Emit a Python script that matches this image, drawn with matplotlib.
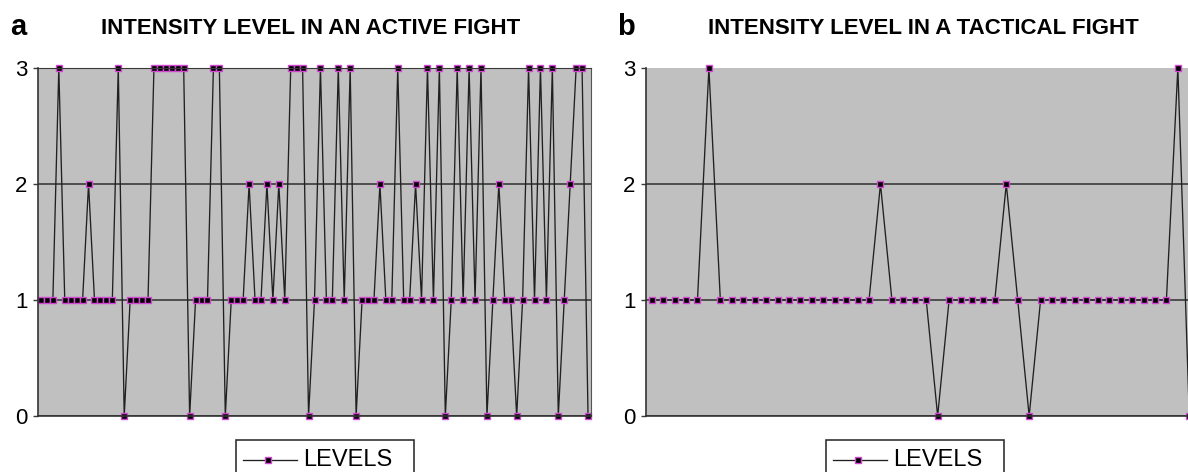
import matplotlib
matplotlib.use("Agg")
import matplotlib.pyplot as plt
from matplotlib.lines import Line2D
from matplotlib.patches import Rectangle

plt.rcParams['font.family'] = ['Liberation Sans', 'DejaVu Sans']

# intensity level per moment of the fight
active_levels = [
    1, 1, 1, 3, 1, 1, 1, 1, 2, 1, 1, 1, 1, 3, 0, 1, 1, 1, 1,
    3, 3, 3, 3, 3, 3, 0, 1, 1, 1, 3, 3, 0, 1, 1, 1, 2, 1, 1, 2, 1, 2, 1,
    3, 3, 3, 0, 1, 3, 1, 1, 3, 1, 3, 0, 1, 1, 1, 2, 1, 1, 3, 1, 1, 2, 1,
    3, 1, 3, 0, 1, 3, 1, 3, 1, 3, 0, 1, 2, 1, 1, 0, 1, 3, 1, 3, 1, 3, 0,
    1, 2, 3, 3, 0,
]
tactical_levels = [
    1, 1, 1, 1, 1, 3,
    1, 1, 1, 1, 1, 1, 1, 1, 1, 1, 1, 1, 1, 1,
    2, 1, 1, 1, 1, 0, 1, 1, 1, 1, 1, 2, 1, 0,
    1, 1, 1, 1, 1, 1, 1, 1, 1, 1, 1, 1,
    3, 0,
]
level_ticks = [0, 1, 2, 3]
titles = ["INTENSITY LEVEL IN AN ACTIVE FIGHT", "INTENSITY LEVEL IN A TACTICAL FIGHT"]
letters = ["a", "b"]
series_name = "LEVELS"

W, H = 1188, 472
fig = plt.figure(figsize=(W / 100, H / 100), dpi=100)

marker_kw = dict(marker='s', ms=4.5, mfc='black', mec='#d048d0', mew=1.0)
line_kw = dict(color='#202020', lw=0.95, **marker_kw)


def fx(x):
    return x / W


def fy(y):
    return 1 - y / H


def draw_panel(left, width, levels, title, letter, title_x, legend_x, top_grid):
    ax = fig.add_axes([fx(left), fy(416), width / W, 348 / H])
    ax.set_facecolor('#c0c0c0')
    n = len(levels)
    ax.plot(range(n), levels, clip_on=False, **line_kw)
    ax.set_xlim(-0.5, n - 0.5)
    ax.set_ylim(0, 3)
    ax.set_xticks([])
    ax.set_yticks(level_ticks)
    ax.yaxis.grid(True, color='#3a3a3a', lw=1.2)
    ax.set_axisbelow(True)
    if not top_grid:
        ax.get_ygridlines()[-1].set_visible(False)
    ax.tick_params(axis='y', direction='out', length=3.6, width=1,
                   color='#3a3a3a', labelsize=16, pad=4)
    for side in ['left', 'bottom']:
        ax.spines[side].set_color('#333333')
        ax.spines[side].set_linewidth(1.2)
    ax.spines['top'].set_visible(top_grid)
    ax.spines['top'].set_color('#3a3a3a')
    ax.spines['right'].set_color('#555555')

    fig.text(fx(title_x), fy(28), title, ha='center', va='center',
             fontsize=16, fontweight='bold')
    fig.text(fx(left - 20), fy(27), letter, ha='center', va='center',
             fontsize=21, fontweight='bold')

    # legend box, cut by the bottom edge like in the original
    fig.add_artist(Rectangle((fx(legend_x), fy(485)), 178 / W, 45 / H,
                             transform=fig.transFigure, facecolor='white',
                             edgecolor='#222222', lw=1.1))
    fig.add_artist(Line2D([fx(legend_x + 7), fx(legend_x + 61)], [fy(460), fy(460)],
                          transform=fig.transFigure, color='#202020', lw=0.95))
    fig.add_artist(Line2D([fx(legend_x + 32)], [fy(460)], transform=fig.transFigure,
                          ls='none', **marker_kw))
    fig.text(fx(legend_x + 67), fy(460), series_name, ha='left', va='center', fontsize=17)
    return ax


draw_panel(38, 553, active_levels, titles[0], letters[0], 311, 236, True)
draw_panel(646, 549, tactical_levels, titles[1], letters[1], 923, 826, False)

fig.savefig("out.png", dpi=100)
